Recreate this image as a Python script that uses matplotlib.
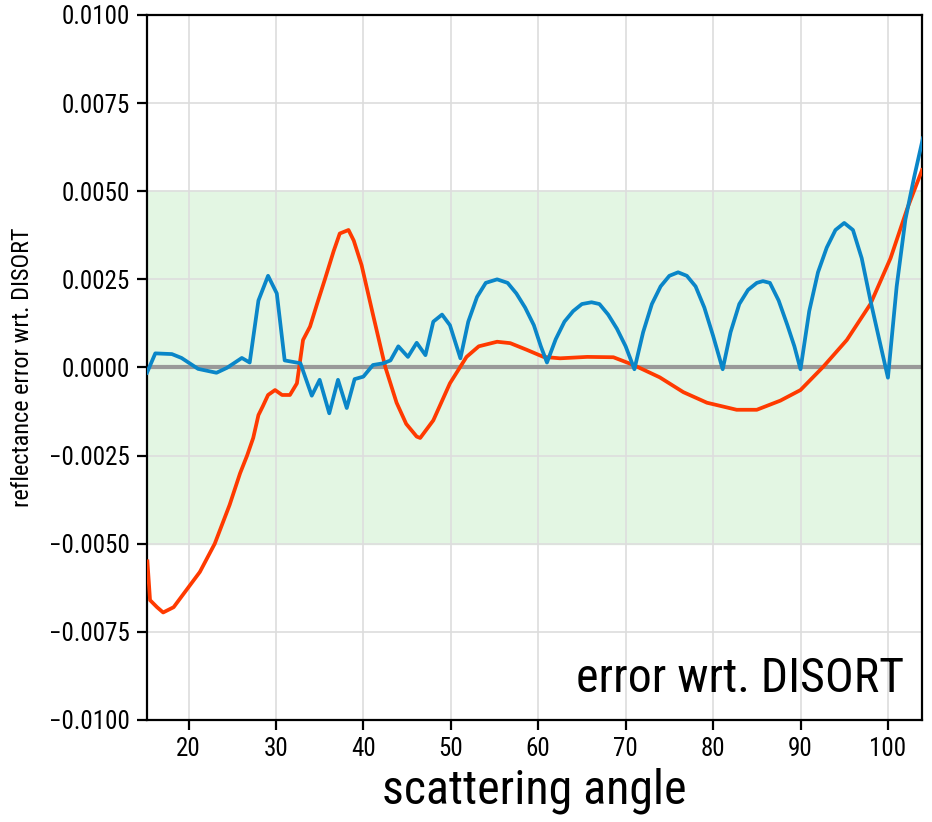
import numpy as np
import matplotlib
matplotlib.use("Agg")
import matplotlib.pyplot as plt

plt.rcParams['font.family'] = ['Roboto Condensed', 'Roboto', 'DejaVu Sans']

# blue curve (angle, error)
blue_x = [15.25, 16.2, 18.1, 19.2, 21.1, 23.2, 24.4, 26.1, 27.0, 28.0, 29.1, 30.1, 31.0,
          32.8, 34.1, 35.0, 36.1, 37.1, 38.1, 39.0, 40.0, 41.1, 42.3, 43.1, 44.0, 45.1,
          46.1, 47.1, 48.0, 49.0, 49.9, 51.1, 52.0, 53.0, 54.0, 55.3, 56.5, 57.5, 58.5,
          59.5, 60.3, 61.0, 62.0, 63.0, 64.0, 65.0, 66.1, 67.0, 68.0, 69.0, 70.0, 71.0,
          72.0, 73.0, 74.0, 75.0, 76.0, 77.0, 78.0, 79.0, 80.0, 81.1, 82.0, 83.0, 84.0,
          85.0, 85.7, 86.5, 87.5, 88.5, 89.3, 90.0, 91.0, 92.0, 93.0, 94.0, 95.0, 96.0,
          97.0, 98.0, 99.0, 100.0, 101.0, 102.0, 103.0, 104.0]
blue_y = [-0.00015, 0.0004, 0.00038, 0.00027, -0.00004, -0.00015, -0.00001, 0.00027, 0.00014,
          0.0019, 0.0026, 0.0021, 0.0002, 0.00012, -0.0008, -0.00035, -0.0013, -0.00035,
          -0.00115, -0.00033, -0.00026, 0.00007, 0.00012, 0.0002, 0.0006, 0.0003, 0.0007,
          0.00035, 0.0013, 0.0015, 0.0012, 0.00026, 0.0013, 0.0020, 0.0024, 0.0025, 0.0024,
          0.0021, 0.0017, 0.0012, 0.0006, 0.00014, 0.0008, 0.0013, 0.0016, 0.0018, 0.00185,
          0.0018, 0.0015, 0.0011, 0.0006, -0.00005, 0.0010, 0.0018, 0.0023, 0.0026, 0.0027,
          0.0026, 0.0023, 0.0017, 0.0009, -0.00005, 0.0010, 0.0018, 0.0022, 0.0024, 0.00245,
          0.0024, 0.0019, 0.0012, 0.0006, -0.00005, 0.0016, 0.0027, 0.0034, 0.0039, 0.0041,
          0.0039, 0.0031, 0.0019, 0.0008, -0.00029, 0.0023, 0.0042, 0.0054, 0.0065]

# orange curve (angle, error)
orange_x = [15.3, 15.6, 16.4, 17.1, 18.3, 19.8, 21.3, 23.0, 24.7, 25.9, 26.7, 27.4, 28.0,
            28.5, 29.1, 29.9, 30.7, 31.6, 32.4, 33.1, 33.9, 34.7, 35.6, 36.6, 37.3, 38.3,
            38.9, 39.8, 41.1, 42.5, 43.8, 44.9, 46.1, 46.5, 48.0, 49.9, 51.8, 53.2, 55.3,
            56.8, 58.7, 60.6, 62.5, 65.6, 68.6, 70.9, 73.9, 76.6, 79.3, 82.7, 85.0, 87.7,
            90.0, 92.6, 95.3, 98.0, 100.3, 102.2, 103.9]
orange_y = [-0.0055, -0.0066, -0.0068, -0.00695, -0.0068, -0.0063, -0.0058, -0.0050, -0.0039,
            -0.0030, -0.0025, -0.0020, -0.00135, -0.0011, -0.00078, -0.00064, -0.00078,
            -0.00078, -0.00045, 0.00078, 0.00116, 0.0018, 0.0025, 0.0033, 0.0038, 0.0039,
            0.0036, 0.0029, 0.0015, 0.00002, -0.0010, -0.0016, -0.00196, -0.0020, -0.0015,
            -0.00045, 0.0003, 0.0006, 0.00073, 0.00069, 0.0005, 0.0003, 0.00026, 0.0003,
            0.00029, 0.00007, -0.00028, -0.0007, -0.0010, -0.0012, -0.0012, -0.00094,
            -0.00064, 0.00002, 0.00078, 0.0018, 0.0031, 0.0045, 0.0056]

x_ticks = [20, 30, 40, 50, 60, 70, 80, 90, 100]
y_ticks = [-0.01, -0.0075, -0.005, -0.0025, 0.0, 0.0025, 0.005, 0.0075, 0.01]
band = (-0.005, 0.005)

fig = plt.figure(figsize=(9.32, 8.22), dpi=100)
ax = fig.add_axes([0.1577, 0.1241, 0.8316, 0.8577])

ax.axhspan(band[0], band[1], color='#e3f6e3', zorder=0)
ax.axhline(0, color='#999999', lw=3, zorder=1)
ax.plot(orange_x, orange_y, color='#ff3a00', lw=2.7, zorder=3)
ax.plot(blue_x, blue_y, color='#0a86c8', lw=2.7, zorder=4)

ax.set_xlim(15.25, 103.9)
ax.set_ylim(-0.01, 0.01)
ax.set_xticks(x_ticks)
ax.set_yticks(y_ticks)
ax.set_yticklabels(['%.4f' % v if v >= 0 else '\u2212%.4f' % -v for v in y_ticks])
ax.grid(True, color='#dddddd', lw=1.2, zorder=0)
ax.set_axisbelow(True)
for s in ax.spines.values():
    s.set_linewidth(1.6)
ax.tick_params(length=7, width=1.6, labelsize=18, pad=5)

ax.set_xlabel('scattering angle', fontsize=34.5, labelpad=5)
ax.set_ylabel('reflectance error wrt. DISORT', fontsize=17.5, labelpad=11)
ax.text(0.977, 0.025, 'error wrt. DISORT', transform=ax.transAxes,
        ha='right', va='bottom', fontsize=34.5)

fig.savefig('out.png', dpi=100)
